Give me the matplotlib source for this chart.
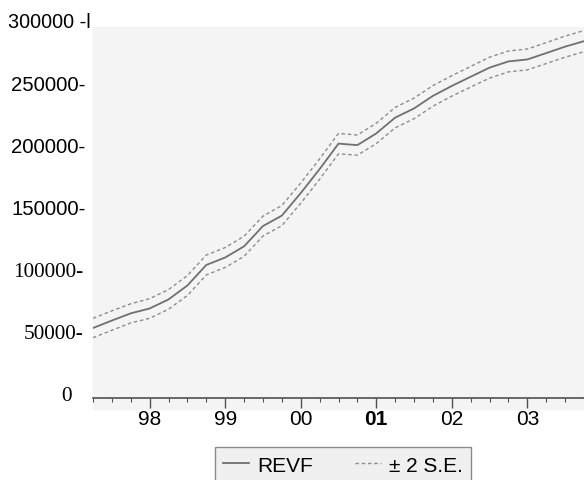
import matplotlib
matplotlib.use("Agg")
import matplotlib.pyplot as plt
from matplotlib.patches import Rectangle
from matplotlib.transforms import ScaledTranslation

# quarterly observations, 1997Q2 .. 2003Q4
quarters = ["1997Q2", "1997Q3", "1997Q4",
            "1998Q1", "1998Q2", "1998Q3", "1998Q4",
            "1999Q1", "1999Q2", "1999Q3", "1999Q4",
            "2000Q1", "2000Q2", "2000Q3", "2000Q4",
            "2001Q1", "2001Q2", "2001Q3", "2001Q4",
            "2002Q1", "2002Q2", "2002Q3", "2002Q4",
            "2003Q1", "2003Q2", "2003Q3", "2003Q4"]
revf = [56300, 62300, 68100,
        72000, 79300, 90500, 107000,
        113000, 122000, 138300, 146700,
        164800, 184100, 204600, 203400,
        212800, 225500, 232900, 243000,
        251000, 258400, 265700, 270700,
        272300, 277400, 282600, 287000]
# half width of the +/- 2 S.E. band
se2 = [7800, 7800, 7700,
       7900, 7900, 8000, 8000,
       8000, 8100, 8000, 8100,
       8100, 8200, 8200, 8100,
       8200, 8200, 8300, 8300,
       8200, 8300, 8400, 8400,
       8400, 8400, 8500, 8500]

year_ticks = [1998, 1999, 2000, 2001, 2002, 2003]
year_labels = ["98", "99", "00", "01", "02", "03"]
y_ticks = [0, 50000, 100000, 150000, 200000, 250000, 300000]
y_labels = ["0  ", "50000-", "100000-", "150000-", "200000-", "250000-", "300000 -l"]
serif_labels = ["0  ", "50000-", "100000-"]

x = [int(q[:4]) + (int(q[-1]) - 1) / 4 for q in quarters]
upper = [v + s for v, s in zip(revf, se2)]
lower = [v - s for v, s in zip(revf, se2)]

W, H = 584, 481
fig = plt.figure(figsize=(W / 100, H / 100), dpi=100)
ax = fig.add_axes([93 / W, 1 - 399 / H, 1 - 93 / W, (399 - 26) / H])
ax.set_facecolor("none")
fig.patches.append(Rectangle((93 / W, 1 - 410 / H), 1 - 93 / W, (410 - 28) / H,
                             transform=fig.transFigure, color="#f4f4f4", zorder=-5))

line, = ax.plot(x, revf, color="#707070", lw=1.3)
band, = ax.plot(x, upper, color="#8c8c8c", lw=1.0, dashes=(2.5, 2))
ax.plot(x, lower, color="#8c8c8c", lw=1.0, dashes=(2.5, 2))

ax.set_xlim(1997.32, 2003.73)
ax.set_ylim(0, 300000)

for side in ["top", "right", "left"]:
    ax.spines[side].set_visible(False)
ax.spines["bottom"].set_color("#505050")
ax.spines["bottom"].set_linewidth(1.2)

ax.set_xticks(year_ticks)
ax.set_xticklabels(year_labels)
ax.set_xticks(x, minor=True)
ax.tick_params(axis="x", which="major", direction="out", length=7.2, width=1, color="#505050", pad=1)
ax.tick_params(axis="x", which="minor", direction="out", length=3, width=0.8, color="#505050")
for lab in ax.get_xticklabels():
    lab.set_fontfamily("Liberation Sans")
    lab.set_fontsize(15)
    if lab.get_text() == "01":
        lab.set_fontweight("bold")

ax.set_yticks(y_ticks)
ax.set_yticklabels(y_labels)
ax.tick_params(axis="y", length=0, pad=6)
for lab in ax.get_yticklabels():
    dx = 1 / 100
    if lab.get_text() in serif_labels:
        lab.set_fontfamily("Liberation Serif")
        lab.set_fontsize(15.3)
        dx = -1 / 100
    else:
        lab.set_fontfamily("Liberation Sans")
        lab.set_fontsize(14.7)
        if lab.get_text().startswith("300000"):
            lab.set_fontsize(14.2)
            dx = 6 / 100
    lab.set_transform(lab.get_transform() + ScaledTranslation(dx, 5 / 100, fig.dpi_scale_trans))

leg = fig.legend([line, band], ["REVF", "\u00b1 2 S.E."], loc="center",
                 bbox_to_anchor=(343 / W, 1 - 466 / H), ncol=2,
                 frameon=True, fancybox=False, edgecolor="#8a8a8a", facecolor="#f0f0f0",
                 framealpha=1, prop={"family": "Liberation Sans", "size": 15},
                 handlelength=1.25, columnspacing=2.0, handletextpad=0.4, borderpad=0.4)
leg.get_frame().set_linewidth(1.0)

fig.savefig("out.png", dpi=100)
